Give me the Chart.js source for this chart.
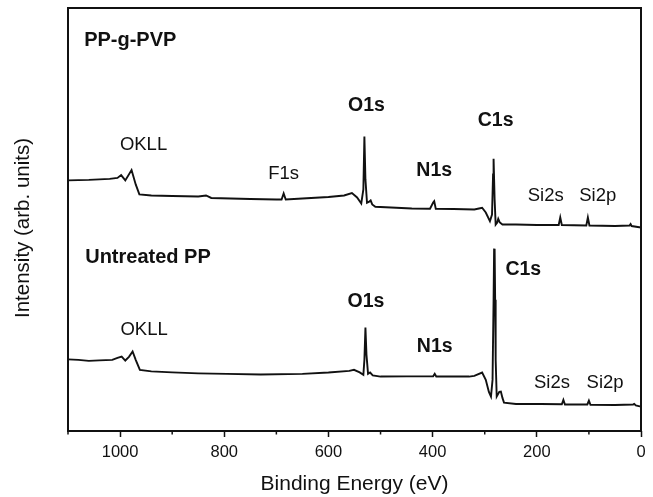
<!DOCTYPE html>
<html>
<head>
<meta charset="utf-8">
<script src="https://cdn.jsdelivr.net/npm/chart.js@4.4.0/dist/chart.umd.min.js"></script>
<style>
  html, body { margin: 0; padding: 0; background: #fff; }
  #wrap { width: 653px; height: 497px; }
</style>
</head>
<body>
<div id="wrap"><canvas id="xps"></canvas></div>
<script>
// PP-g-PVP survey spectrum (binding energy in eV, intensity in arb. units)
const energyTop = [1100, 1060, 1020, 1005, 998, 990, 978, 970, 963, 940,
  900, 850, 835, 825, 750, 700, 690, 686, 682, 650,
  600, 570, 555, 545, 537, 533, 531, 529, 526, 521,
  519, 516, 510, 480, 440, 405, 399, 397, 394, 360,
  320, 311, 305, 298, 290, 286, 284, 283, 281, 279,
  276, 274, 271, 266, 240, 200, 158, 155, 152, 105,
  102, 99, 50, 22, 20, 18, 0];
const intensityTop = [250, 250.5, 251.5, 252.5, 255.3, 250, 260.3, 246, 236, 235,
  234.5, 234, 235, 232.5, 231.5, 231, 231, 237, 231, 232,
  233.5, 235, 237.3, 233, 227, 241, 293.7, 251, 227.7, 229,
  230, 226, 223.7, 223, 222, 221.7, 228, 229.3, 221.7, 221.5,
  221, 222, 222.7, 218, 209.3, 216, 256, 271.7, 231, 206,
  208, 211.7, 208, 206, 206, 205.5, 205.5, 213, 205.5, 205,
  213, 205, 204.5, 205, 206.5, 204.5, 203];

// Untreated PP survey spectrum
const energyBottom = [1100, 1080, 1060, 1040, 1015, 1005, 997, 990, 983, 976,
  970, 962, 940, 900, 850, 795, 730, 650, 600, 560,
  551, 540, 533, 531, 529, 527, 524, 520, 515, 500,
  450, 399, 396, 393, 330, 320, 305, 298, 292, 288,
  285, 283, 282, 281, 280, 279, 277, 272, 269, 266,
  263, 240, 192, 152, 149, 146, 103, 100, 97, 50,
  15, 13, 10, 0];
const intensityBottom = [71.5, 71, 70, 70.5, 71, 73, 74.3, 70.3, 74, 79.3,
  71, 61, 59.5, 58.5, 57.5, 57, 56.3, 57, 58.3, 60,
  61, 58.5, 56, 71, 103.3, 76, 57, 58.3, 55.5, 54.3,
  54.5, 54.5, 57, 54.3, 54.3, 55, 58.3, 51, 39, 34.3,
  51, 131, 181, 181.7, 131, 71, 34.3, 39, 39.3, 33,
  28.3, 27, 27, 26.7, 31, 26.5, 26.5, 30.3, 26.2, 26,
  26.5, 27, 25.5, 24.3];

// axis ticks
const majorTicks = [0, 200, 400, 600, 800, 1000];
const minorTicks = [100, 300, 500, 700, 900, 1100];

// annotations: text, anchor energy, anchor intensity, kind
const labelTexts  = ['PP-g-PVP', 'OKLL', 'F1s', 'O1s', 'N1s', 'C1s', 'Si2s', 'Si2p',
                     'Untreated PP', 'OKLL', 'O1s', 'N1s', 'C1s', 'Si2s', 'Si2p'];
const labelEnergy = [1069, 955, 686, 527, 397, 279, 183, 83,
                     1067, 954, 528, 396, 226, 171, 69];
const labelLevel  = [390, 285, 256.7, 324.3, 259.3, 309.3, 235, 234.3,
                     172.7, 101, 129.3, 84.3, 161, 48.3, 48.3];
const labelKinds  = ['sample', 'minor', 'minor', 'major', 'major', 'major', 'minor', 'minor',
                     'sample', 'minor', 'major', 'major', 'major', 'minor', 'minor'];

const FONT = '"Liberation Sans", Arial, Helvetica, sans-serif';
const INK = '#111';

function toPoints(xs, ys) {
  return xs.map((x, i) => ({ x: x, y: ys[i] }));
}

function labelFont(kind) {
  if (kind === 'sample') return 'bold 20px ' + FONT;
  if (kind === 'major') return 'bold 19.5px ' + FONT;
  return '18.5px ' + FONT;
}

const frameAndLabels = {
  id: 'frameAndLabels',
  afterDraw(chart) {
    const { ctx, chartArea: a, scales: { x, y } } = chart;
    ctx.save();
    ctx.strokeStyle = INK;
    // short minor ticks
    ctx.lineWidth = 1.5;
    minorTicks.forEach(v => {
      const px = x.getPixelForValue(v);
      ctx.beginPath();
      ctx.moveTo(px, a.bottom);
      ctx.lineTo(px, a.bottom + 3.5);
      ctx.stroke();
    });
    // box around plot
    ctx.lineWidth = 2;
    ctx.strokeRect(a.left, a.top, a.right - a.left, a.bottom - a.top);
    // peak and sample labels
    ctx.fillStyle = INK;
    ctx.textBaseline = 'middle';
    labelTexts.forEach((t, i) => {
      ctx.font = labelFont(labelKinds[i]);
      ctx.textAlign = labelKinds[i] === 'sample' ? 'left' : 'center';
      ctx.fillText(t, x.getPixelForValue(labelEnergy[i]), y.getPixelForValue(labelLevel[i]));
    });
    // y axis title, centred a little below the middle as in the original
    ctx.translate(23, 228);
    ctx.rotate(-Math.PI / 2);
    ctx.textAlign = 'center';
    ctx.font = '20.5px ' + FONT;
    ctx.fillText('Intensity (arb. units)', 0, 0);
    ctx.restore();
  }
};

const ctx = document.getElementById('xps').getContext('2d');
new Chart(ctx, {
  type: 'scatter',
  data: {
    datasets: [
      { label: 'PP-g-PVP', data: toPoints(energyTop, intensityTop) },
      { label: 'Untreated PP', data: toPoints(energyBottom, intensityBottom) }
    ]
  },
  options: {
    responsive: true,
    maintainAspectRatio: false,
    animation: false,
    layout: { padding: { left: 0, right: 12, top: 8, bottom: 0 } },
    elements: {
      line: { borderColor: INK, borderWidth: 1.9, tension: 0 },
      point: { radius: 0, hoverRadius: 0 }
    },
    datasets: { scatter: { showLine: true, borderColor: INK, borderWidth: 1.9 } },
    plugins: {
      legend: { display: false },
      tooltip: { enabled: false }
    },
    scales: {
      x: {
        type: 'linear',
        reverse: true,
        min: 0,
        max: 1100,
        afterFit: s => { s.height = 66; },
        border: { display: false },
        grid: {
          drawOnChartArea: false,
          drawTicks: true,
          tickLength: 6,
          tickWidth: 1.5,
          tickColor: c => majorTicks.includes(c.tick.value) ? INK : 'rgba(0,0,0,0)'
        },
        ticks: {
          stepSize: 100,
          autoSkip: false,
          maxRotation: 0,
          padding: 6,
          color: INK,
          font: { family: FONT, size: 16.5 },
          callback: v => majorTicks.includes(v) ? String(v) : ''
        },
        title: {
          display: true,
          text: 'Binding Energy (eV)',
          color: INK,
          padding: { top: 4, bottom: 0 },
          font: { family: FONT, size: 21 }
        }
      },
      y: {
        min: 0,
        max: 422,
        afterFit: s => { s.width = 68; },
        border: { display: false },
        grid: { display: false },
        ticks: { display: false },
        title: { display: false }
      }
    }
  },
  plugins: [frameAndLabels]
});
</script>
</body>
</html>
